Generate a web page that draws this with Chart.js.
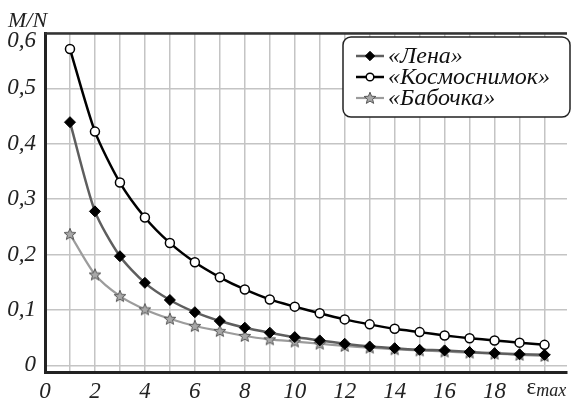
<!DOCTYPE html>
<html><head><meta charset="utf-8">
<script src="https://cdn.jsdelivr.net/npm/chart.js@4/dist/chart.umd.min.js"></script>
<style>html,body{margin:0;padding:0;background:#fff}#wrap{width:574px;height:403px;position:relative}</style>
</head><body><div id="wrap"><canvas id="c" width="574" height="403"></canvas></div>
<script>
const xValues = [1,2,3,4,5,6,7,8,9,10,11,12,13,14,15,16,17,18,19,20];
const lena = [0.439,0.278,0.197,0.149,0.118,0.096,0.080,0.068,0.059,0.051,0.045,0.039,0.034,0.031,0.028,0.027,0.024,0.022,0.020,0.019];
const kosmos = [0.571,0.422,0.330,0.267,0.221,0.186,0.159,0.137,0.119,0.106,0.094,0.083,0.074,0.066,0.060,0.054,0.049,0.045,0.041,0.037];
const babochka = [0.237,0.164,0.125,0.101,0.084,0.071,0.062,0.053,0.047,0.043,0.039,0.035,0.032,0.029,0.027,0.025,0.023,0.021,0.019,0.017];
const seriesNames = ['«Лена»','«Космоснимок»','«Бабочка»'];
const yTicks = [0,0.1,0.2,0.3,0.4,0.5,0.6];
const xGridTicks = [0,1,2,3,4,5,6,7,8,9,10,11,12,13,14,15,16,17,18,19,20];
const xLabelTicks = [0,2,4,6,8,10,12,14,16,18];
const yTitle = 'M/N';
const xTitleMain = 'ε', xTitleSub = 'max';

const FONT = '"Liberation Serif", "DejaVu Serif", serif';
const fmtY = v => v === 0 ? '0' : v.toFixed(1).replace('.', ',');

function makeStar(){
  const c = document.createElement('canvas'); c.width = 14; c.height = 14;
  const g = c.getContext('2d');
  g.beginPath();
  for (let i=0;i<10;i++){
    const r = i%2===0 ? 6.2 : 2.7;
    const a = -Math.PI/2 + i*Math.PI/5;
    const px = 7 + r*Math.cos(a), py = 7.4 + r*Math.sin(a);
    if(i===0) g.moveTo(px,py); else g.lineTo(px,py);
  }
  g.closePath();
  g.fillStyle = '#a8a8a8'; g.fill();
  g.strokeStyle = '#555'; g.lineWidth = 1; g.stroke();
  return c;
}
const starImg = makeStar();

const pts = arr => arr.map((v,i)=>({x:xValues[i], y:v}));

const decor = {
  id:'decor',
  afterDraw(chart){
    const ctx = chart.ctx, a = chart.chartArea;
    ctx.save();
    ctx.strokeStyle = '#333'; ctx.lineWidth = 2.5;
    ctx.beginPath(); ctx.moveTo(a.left, a.top+0.5); ctx.lineTo(a.right, a.top+0.5); ctx.stroke();
    // top y label (pushed down inside the frame as in the reference)
    const ys = chart.scales.y;
    ctx.fillStyle = '#222'; ctx.font = 'italic 23px ' + FONT; ctx.textAlign = 'right'; ctx.textBaseline = 'middle';
    const topV = yTicks[yTicks.length-1];
    ctx.fillText(fmtY(topV), 36, ys.getPixelForValue(topV) + 8);
    // y title
    ctx.textAlign = 'left'; ctx.textBaseline = 'alphabetic';
    ctx.font = 'italic 22px ' + FONT;
    ctx.fillText(yTitle, 8, 27);
    // x title at last position
    const xs = chart.scales.x;
    const px = xs.getPixelForValue(20);
    ctx.font = '23px ' + FONT;
    const w1 = ctx.measureText(xTitleMain).width;
    const sx = px - 18;
    ctx.fillText(xTitleMain, sx, 394);
    ctx.font = 'italic 18px ' + FONT;
    ctx.fillText(xTitleSub, sx + w1, 396);
    // legend
    const lx = 343, ly = 37, lw = 227, lh = 80, r = 8;
    ctx.beginPath();
    ctx.moveTo(lx+r, ly); ctx.lineTo(lx+lw-r, ly); ctx.arcTo(lx+lw, ly, lx+lw, ly+r, r);
    ctx.lineTo(lx+lw, ly+lh-r); ctx.arcTo(lx+lw, ly+lh, lx+lw-r, ly+lh, r);
    ctx.lineTo(lx+r, ly+lh); ctx.arcTo(lx, ly+lh, lx, ly+lh-r, r);
    ctx.lineTo(lx, ly+r); ctx.arcTo(lx, ly, lx+r, ly, r); ctx.closePath();
    ctx.fillStyle = '#fff'; ctx.fill();
    ctx.strokeStyle = '#222'; ctx.lineWidth = 1.5; ctx.stroke();
    const rows = [56, 77, 98];
    chart.data.datasets.forEach((ds, i) => {
      const y = rows[i];
      ctx.strokeStyle = ds.borderColor; ctx.lineWidth = ds.borderWidth;
      ctx.beginPath(); ctx.moveTo(356, y); ctx.lineTo(384, y); ctx.stroke();
      ctx.fillStyle = ds.pointBackgroundColor; ctx.strokeStyle = ds.pointBorderColor; ctx.lineWidth = ds.pointBorderWidth;
      Chart.helpers.drawPoint(ctx, {pointStyle: ds.pointStyle, radius: ds.pointRadius*0.85, rotation: 0, borderWidth: ds.pointBorderWidth}, 370, y);
      ctx.fillStyle = '#111'; ctx.font = 'italic 24px ' + FONT; ctx.textBaseline = 'middle'; ctx.textAlign = 'left';
      ctx.fillText(seriesNames[i], 388, y + 1);
    });
    ctx.restore();
  }
};

function draw(){
new Chart(document.getElementById('c'), {
  type: 'line',
  data: {
    datasets: [
      { label: seriesNames[0], data: pts(lena), borderColor: '#5e5e5e', borderWidth: 2.5,
        pointStyle: 'rectRot', pointRadius: 5.5, pointBackgroundColor: '#000', pointBorderColor: '#000', pointBorderWidth: 1, tension: 0.25 },
      { label: seriesNames[1], data: pts(kosmos), borderColor: '#000', borderWidth: 2.5,
        pointStyle: 'circle', pointRadius: 4.5, pointBackgroundColor: '#fff', pointBorderColor: '#000', pointBorderWidth: 1.5, tension: 0.25 },
      { label: seriesNames[2], data: pts(babochka), borderColor: '#9c9c9c', borderWidth: 2.2,
        pointStyle: starImg, pointRadius: 6, pointBackgroundColor: '#a8a8a8', pointBorderColor: '#555', pointBorderWidth: 1, tension: 0.25 }
    ]
  },
  options: {
    responsive: false, animation: false,
    layout: { padding: { top: 33, right: 1, left: 0, bottom: 0 } },
    plugins: { legend: { display: false }, tooltip: { enabled: false } },
    scales: {
      x: {
        type: 'linear', min: 0, max: 20.9,
        afterBuildTicks: s => { s.ticks = xGridTicks.map(v => ({value: v})); },
        afterFit: s => { s.height = 31; },
        grid: { color: '#c4c4c4', lineWidth: 1.5, drawTicks: false },
        border: { color: '#222', width: 3 },
        ticks: { autoSkip: false, maxRotation: 0, padding: 6, color: '#222',
          font: { family: FONT, size: 23, style: 'italic' },
          callback: v => xLabelTicks.includes(v) ? String(v) : '' }
      },
      y: {
        min: -0.012, max: 0.6,
        afterBuildTicks: s => { s.ticks = yTicks.map(v => ({value: v})); },
        afterFit: s => { s.width = 45; },
        grid: { color: '#c4c4c4', lineWidth: 1.5, drawTicks: false },
        border: { color: '#222', width: 3 },
        ticks: { padding: 9, color: '#222', font: { family: FONT, size: 23, style: 'italic' },
          callback: v => v === yTicks[yTicks.length-1] ? '' : fmtY(v) }
      }
    }
  },
  plugins: [decor]
});
}
Promise.all([
  document.fonts.load('italic 22px "Liberation Serif"'),
  document.fonts.load('22px "Liberation Serif"')
]).then(draw, draw);
</script></body></html>
